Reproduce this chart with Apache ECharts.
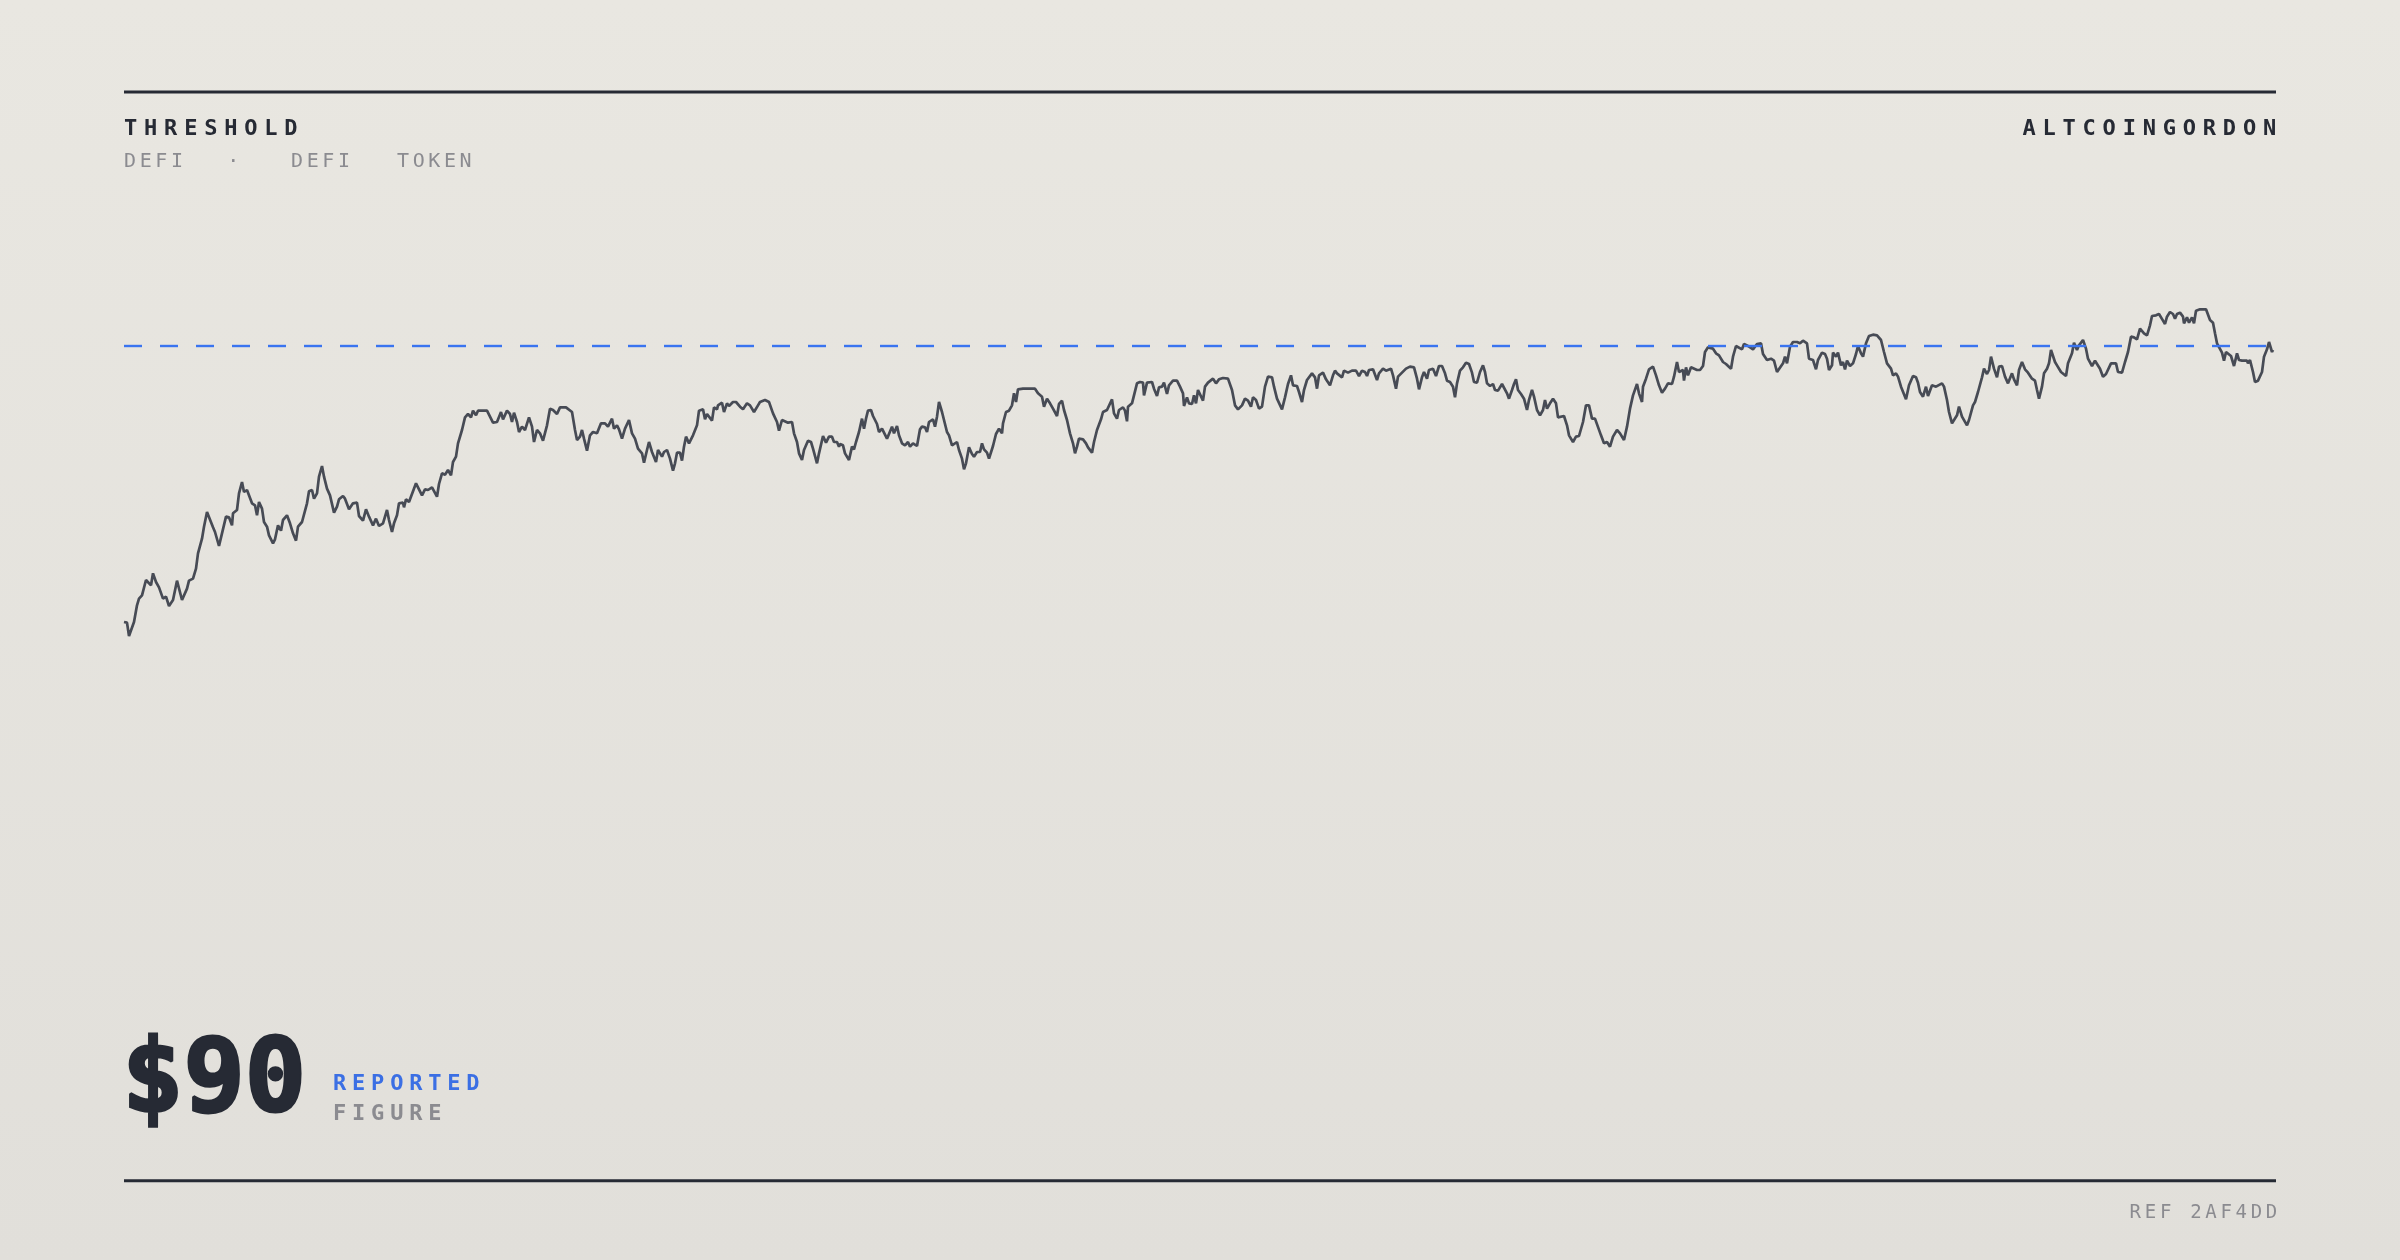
<!DOCTYPE html>
<html><head><meta charset="utf-8">
<style>html,body{margin:0;padding:0;width:2400px;height:1260px;overflow:hidden;background:#e6e4de}#c{width:2400px;height:1260px}</style>
<script src="https://cdn.jsdelivr.net/npm/echarts@6/dist/echarts.min.js"></script>
</head><body><div id="c"></div><script>
// canvas letter-spacing: a fake font family "lsNN" carries the spacing in tenths of px
(function(){
  const P = CanvasRenderingContext2D.prototype;
  function wrap(name){
    const orig = P[name];
    P[name] = function(t, x, y, w){
      const m = /\bls(\d+)\b/.exec(this.font || '');
      if (m && ('letterSpacing' in this)) {
        const prev = this.letterSpacing;
        this.letterSpacing = (parseInt(m[1],10)/10) + 'px';
        if (w === undefined) orig.call(this, t, x, y); else orig.call(this, t, x, y, w);
        this.letterSpacing = prev;
        return;
      }
      return w === undefined ? orig.call(this, t, x, y) : orig.call(this, t, x, y, w);
    };
  }
  wrap('fillText'); wrap('strokeText');
})();

const titleText = 'THRESHOLD';
const subtitleWords = ['DEFI', '·', 'DEFI', 'TOKEN'];
const authorText = 'ALTCOINGORDON';
const figureValue = '$90';
const figureLabels = ['REPORTED', 'FIGURE'];
const refText = 'REF 2AF4DD';
const threshold = 90;

// [day index, price]
const trace = [
[0,48.6],[3,48.5],[5,46.5],[10,48.6],[13,51.1],[15,52.1],[18,52.6],[22,54.9],[24,54.6],[27,54.1],[29,55.9],[32,54.6],[35,53.8],[39,52.1],[42,52.4],[45,51.0],[49,51.9],[53,54.8],[58,51.9],[63,53.6],[65,54.8],[69,55.1],[72,56.6],[74,58.9],[78,61.1],[80,62.9],[83,65.1],[85,65.0],[89,62.8],[91,62.1],[95,60.0],[98,61.9],[102,64.4],[105,64.3],[108,63.1],[109,64.9],[113,65.4],[115,67.9],[118,69.6],[120,68.1],[123,68.4],[125,68.1],[128,66.4],[131,66.1],[133,64.6],[135,66.6],[138,65.6],[140,63.6],[143,62.9],[145,61.6],[149,60.4],[151,61.0],[154,63.1],[157,62.3],[159,63.9],[163,64.6],[166,63.4],[169,61.9],[172,60.8],[174,62.9],[178,63.6],[180,63.9],[183,66.4],[185,68.2],[188,68.4],[190,67.1],[193,67.9],[195,70.4],[198,72.0],[200,70.4],[203,68.6],[206,67.6],[210,65.0],[213,65.9],[215,67.0],[219,67.5],[221,67.1],[225,65.5],[229,66.4],[233,66.5],[235,64.5],[239,63.8],[242,65.5],[245,64.4],[249,63.1],[252,64.1],[255,63.0],[259,63.4],[263,65.4],[265,63.9],[268,62.1],[270,63.4],[273,64.6],[275,66.4],[279,66.5],[280,65.8],[282,67.0],[285,66.6],[288,67.8],[290,67.9],[292,69.4],[294,69.5],[298,67.6],[301,68.5],[304,68.4],[308,68.8],[310,68.9],[313,67.4],[315,69.3],[318,70.9],[321,70.7],[324,71.4],[327,70.6],[329,72.6],[332,73.4],[334,75.4],[338,77.4],[341,79.3],[344,79.8],[347,79.3],[349,80.3],[352,79.6],[354,80.3],
[356,80.4],[363,80.3],[369,78.5],[373,78.6],[377,80.1],[379,79.0],[383,80.3],[386,79.8],[388,78.6],[390,80.0],[393,78.6],[395,77.1],[398,77.9],[401,77.4],[405,79.3],[408,77.9],[410,75.6],[413,77.4],[416,76.9],[419,75.8],[423,78.1],[426,80.6],[429,80.4],[433,79.8],[436,80.8],[442,80.8],[448,80.1],[451,77.4],[453,75.9],[456,76.4],[458,77.4],[460,76.1],[463,74.3],[466,76.6],[469,77.1],[473,76.9],[477,78.4],[481,78.4],[484,77.9],[488,79.1],[490,77.6],[493,78.1],[495,77.5],[498,76.1],[501,77.6],[505,78.9],[508,76.9],[511,76.1],[514,74.6],[518,73.9],[520,72.5],[523,74.4],[525,75.6],[528,74.1],[530,73.9],[532,72.6],[534,74.4],[538,73.4],[540,74.1],[543,74.4],[546,73.1],[549,71.3],[551,72.4],[553,74.0],[556,74.0],[558,72.8],[560,74.9],[562,76.4],[565,75.4],[569,76.6],[573,78.1],[575,80.3],[579,80.5],[581,79.0],[583,79.8],[585,79.6],[588,78.8],[590,80.8],[593,80.5],[594,81.1],[598,81.5],[600,80.1],[603,81.4],[605,81.0],[609,81.6],[612,81.6],[616,80.9],[619,80.5],[623,81.4],[626,81.1],[630,80.1],[634,81.1],[636,81.6],[638,81.3],[641,81.9],[645,81.6],[649,79.9],[653,78.6],[655,77.3],[658,78.9],[660,78.6],[664,78.5],[668,78.6],[670,76.9],[673,75.6],[675,73.9],[678,72.9],[680,74.4],[684,75.8],[687,75.6],[689,74.6],[693,72.4],[695,73.9],[699,76.5],[702,75.5],[705,76.4],[708,76.4],[710,75.6],[713,75.6],[715,74.9],
[716,75.3],[719,75.1],[721,73.9],[725,72.9],[728,74.9],[730,74.5],[732,75.6],[735,77.1],[738,79.1],[740,77.6],[742,79.1],[744,80.3],[747,80.4],[749,79.5],[753,78.3],[755,77.1],[758,77.6],[760,77.9],[763,76.1],[765,75.9],[768,77.9],[770,76.9],[773,78.0],[775,76.6],[778,75.4],[781,75.1],[784,75.6],[786,74.9],[789,75.4],[793,75.0],[796,77.5],[798,77.9],[801,77.8],[803,77.1],[805,78.6],[809,79.0],[811,77.9],[813,79.4],[815,81.6],[818,80.1],[820,78.9],[823,77.1],[825,76.6],[828,75.1],[830,75.4],[833,75.6],[835,74.4],[838,73.1],[840,71.5],[842,72.4],[845,74.8],[848,73.8],[850,73.4],[853,74.1],[856,74.1],[858,75.4],[860,74.5],[863,74.0],[865,73.1],[869,75.0],[872,76.8],[875,77.6],[878,76.9],[879,78.4],[882,80.1],[885,80.3],[888,81.1],[890,82.9],[892,81.6],[894,83.5],[899,83.6],[904,83.6],[911,83.6],[914,82.9],[918,82.4],[920,80.9],[923,82.1],[926,81.4],[929,80.6],[933,79.5],[935,81.3],[938,81.8],[940,80.4],[943,78.9],[946,76.9],[949,75.4],[951,73.9],[953,74.9],[955,76.1],[959,76.0],[962,75.4],[964,74.8],[968,74.0],[970,75.6],[973,77.4],[977,79.0],[979,80.1],[983,80.4],[985,80.4],[988,82.0],[990,79.9],[993,79.1],[995,80.4],[999,80.8],[1001,80.3],[1003,78.7],[1004,80.9],[1008,81.4],[1010,82.6],[1013,84.4],[1016,84.6],[1019,84.5],[1020,82.6],[1023,84.5],[1028,84.6],[1030,83.6],[1033,82.5],[1035,83.8],[1038,83.9],[1040,84.5],[1043,82.8],[1045,84.1],[1049,84.8],[1053,84.8],[1056,83.9],[1059,82.9],[1060,81.0],[1063,82.3],[1065,81.4],[1068,81.3],[1070,82.6],[1072,81.4],[1074,83.4],
[1076,83.5],[1079,81.8],[1081,83.9],[1084,84.5],[1089,85.1],[1092,84.4],[1095,85.0],[1099,85.2],[1104,85.1],[1108,83.4],[1111,81.1],[1114,80.5],[1118,81.1],[1121,82.1],[1124,81.8],[1127,80.9],[1129,82.3],[1132,81.9],[1135,80.6],[1138,80.9],[1141,83.9],[1144,85.4],[1148,85.3],[1150,83.9],[1153,82.1],[1158,80.5],[1161,82.3],[1164,84.3],[1167,85.6],[1169,84.1],[1173,84.0],[1175,83.1],[1178,81.6],[1180,83.4],[1183,84.9],[1188,85.9],[1191,85.3],[1193,83.6],[1195,85.6],[1199,86.0],[1202,85.0],[1204,84.9],[1206,84.1],[1209,85.6],[1211,86.3],[1213,85.9],[1215,86.1],[1218,85.3],[1220,86.3],[1224,86.0],[1228,86.3],[1232,86.3],[1235,85.5],[1238,86.3],[1241,86.1],[1243,85.5],[1245,86.4],[1249,86.5],[1251,86.6],[1253,84.9],[1255,85.9],[1259,86.6],[1262,86.3],[1264,86.0],[1267,86.6],[1269,85.6],[1272,83.6],[1274,85.4],[1278,86.0],[1282,86.6],[1286,86.9],[1290,86.8],[1293,85.1],[1295,83.5],[1298,85.3],[1300,86.1],[1303,85.1],[1305,86.4],[1309,86.6],[1312,85.5],[1315,87.0],[1318,87.0],[1321,85.9],[1323,84.8],[1326,84.6],[1329,83.9],[1331,82.3],[1333,84.4],[1336,86.3],[1339,86.8],[1342,87.5],[1345,87.3],[1348,86.0],[1350,84.6],[1353,84.5],[1356,86.1],[1359,87.1],[1361,86.1],[1363,84.4],[1366,84.0],[1369,84.3],[1371,83.4],[1374,83.3],[1378,84.3],[1380,84.4],[1383,82.9],[1385,82.1],[1388,83.4],[1390,84.3],[1392,85.0],[1394,83.4],[1397,82.8],[1400,82.1],[1403,80.4],[1405,81.9],[1408,83.4],[1410,82.4],[1413,80.4],[1416,79.6],[1419,80.4],[1421,81.9],[1423,80.6],[1426,81.4],[1429,82.1],[1432,81.4],[1434,79.3],
[1436,79.4],[1440,79.5],[1443,78.1],[1445,76.6],[1449,75.6],[1452,76.4],[1455,76.5],[1459,78.6],[1462,81.1],[1465,81.1],[1468,79.1],[1471,79.1],[1473,79.1],[1477,76.6],[1480,75.4],[1483,75.6],[1486,74.9],[1489,76.4],[1493,77.4],[1496,76.9],[1500,75.9],[1503,77.9],[1506,80.6],[1509,82.6],[1513,84.3],[1515,82.9],[1518,81.6],[1519,83.9],[1522,85.1],[1525,86.5],[1529,86.9],[1532,85.6],[1535,84.1],[1538,83.0],[1541,83.6],[1544,84.4],[1548,84.3],[1550,85.4],[1553,87.6],[1555,86.1],[1559,86.4],[1560,84.8],[1562,86.8],[1564,85.6],[1567,86.8],[1569,87.1],[1573,86.4],[1576,86.4],[1579,87.0],[1581,89.1],[1584,89.8],[1589,89.6],[1592,88.9],[1595,88.6],[1599,87.6],[1602,87.3],[1604,87.5],[1607,86.6],[1609,88.4],[1612,90.0],[1614,90.1],[1618,89.5],[1620,90.3],[1624,90.0],[1629,89.5],[1633,90.3],[1637,90.4],[1639,88.8],[1643,87.9],[1647,88.1],[1650,87.8],[1653,86.1],[1655,85.8],[1659,87.4],[1661,88.4],[1663,87.4],[1666,89.9],[1669,90.6],[1673,90.6],[1676,90.4],[1679,90.8],[1683,90.4],[1685,88.1],[1689,87.9],[1692,86.5],[1694,87.9],[1698,89.0],[1701,88.8],[1703,88.1],[1705,86.4],[1708,87.1],[1709,89.0],[1712,88.4],[1714,89.0],[1717,87.1],[1719,87.6],[1721,86.5],[1723,87.8],[1726,87.0],[1729,87.4],[1732,88.8],[1734,90.0],[1737,88.9],[1739,88.4],[1742,90.4],[1745,91.5],[1749,91.7],[1753,91.6],[1757,90.9],[1760,89.1],[1763,87.4],[1767,86.6],[1769,85.6],[1772,85.9],[1774,85.4],[1777,83.9],[1779,83.9],[1782,82.0],[1785,84.1],[1789,85.5],[1792,85.3],[1794,84.5],
[1796,83.1],[1799,82.4],[1802,83.9],[1804,82.5],[1808,84.1],[1812,83.9],[1818,84.4],[1820,83.9],[1823,81.9],[1825,80.1],[1828,78.4],[1830,78.1],[1833,79.6],[1835,80.9],[1838,79.4],[1840,79.5],[1843,78.1],[1845,78.9],[1849,81.1],[1851,81.6],[1854,83.1],[1858,85.3],[1860,86.6],[1863,85.8],[1865,86.4],[1867,88.4],[1870,86.6],[1873,85.3],[1875,86.9],[1878,87.0],[1881,85.4],[1884,84.4],[1888,85.9],[1890,85.0],[1893,84.1],[1895,86.4],[1898,87.6],[1901,86.5],[1904,86.0],[1908,85.1],[1911,84.8],[1913,83.4],[1915,82.1],[1918,83.9],[1920,85.9],[1923,86.6],[1925,87.4],[1927,89.4],[1929,89.4],[1931,87.6],[1933,87.1],[1937,86.1],[1939,86.4],[1942,85.5],[1944,87.4],[1948,88.9],[1950,90.5],[1953,89.4],[1955,90.1],[1959,90.9],[1962,89.6],[1964,88.1],[1968,87.0],[1971,87.8],[1973,87.9],[1976,86.6],[1979,85.4],[1982,85.8],[1984,85.5],[1987,87.4],[1989,87.3],[1992,87.4],[1994,86.1],[1998,86.0],[2001,87.6],[2004,89.1],[2007,91.4],[2010,91.3],[2013,91.0],[2016,92.6],[2018,92.9],[2020,91.9],[2023,91.6],[2026,93.1],[2028,94.5],[2032,94.6],[2035,94.8],[2037,95.0],[2039,93.8],[2041,93.3],[2043,94.4],[2046,95.1],[2049,94.8],[2051,94.1],[2053,94.8],[2056,95.0],[2059,94.4],[2060,93.4],[2063,94.3],[2065,93.5],[2068,94.3],[2070,93.4],[2072,95.3],[2076,95.5],[2082,95.5],[2086,93.9],[2089,93.5],[2091,91.9],[2093,90.4],[2095,90.6],[2098,89.0],[2100,87.8],[2102,89.1],[2104,89.0],[2107,88.5],[2110,87.0],[2113,88.9],[2115,87.9],[2118,87.8],[2120,87.5],[2123,87.8],[2124,87.4],[2126,87.9],[2129,86.1],[2131,84.6],[2134,84.8],[2138,86.1],[2140,88.4],[2143,89.5],[2145,90.6],[2148,89.1],[2149,89.4]
];

const DARK = '#262a34', GREY = '#8b8b90', BLUE = '#3b6fe4', LINE = '#474b55', DASH = '#3a74f0';
function fam(ls){ return "'DejaVu Sans Mono', ls" + Math.round(ls * 10); }
function txt(text, x, y, size, weight, color, ls, align, strokeW){
  const a = align || 'left';
  const st = { text:text, fill:color, fontSize:size, fontWeight:weight, fontFamily:fam(ls),
      align:a, verticalAlign:'middle', textAlign:a, textVerticalAlign:'middle' };
  if (strokeW) { st.stroke = color; st.lineWidth = strokeW; }
  return { type:'text', x:x, y:y, silent:true, z:10, style:st };
}

const subX = [124, 235, 291, 397];
const graphics = [
  { type:'rect', silent:true, shape:{ x:124, y:90.5, width:2152, height:3 }, style:{ fill:DARK } },
  { type:'rect', silent:true, shape:{ x:124, y:1179.3, width:2152, height:3 }, style:{ fill:DARK } },
  txt(titleText, 124, 129.5, 22, 'bold', DARK, 6.8),
  txt(authorText, 2283, 129.5, 22, 'bold', DARK, 6.8, 'right'),
  txt(figureValue, 122, 1084, 102, 'bold', DARK, 0, 'left', 3),
  txt(figureLabels[0], 333, 1084.5, 22, 'bold', BLUE, 5.8),
  txt(figureLabels[1], 333, 1114.5, 22, 'bold', GREY, 5.8),
  txt(refText, 2281, 1213.5, 19, 'normal', GREY, 3.7, 'right')
];
subtitleWords.forEach(function(w, i){
  graphics.push(txt(w, subX[i], 161.5, 20, 'normal', GREY, 3.6, i === 1 ? 'center' : 'left'));
});

const chart = echarts.init(document.getElementById('c'), null, { renderer:'canvas' });
chart.setOption({
  animation:false,
  backgroundColor:{ type:'linear', x:0, y:0, x2:0, y2:1,
    colorStops:[{ offset:0, color:'#e9e7e1' }, { offset:1, color:'#e1dfda' }] },
  grid:{ left:124, right:127, top:146, bottom:314 },
  xAxis:{ type:'value', min:0, max:2149, show:false },
  yAxis:{ type:'value', min:0, max:120, show:false },
  graphic: graphics,
  series:[{
    type:'line', data:trace, showSymbol:false, symbol:'none', silent:true,
    lineStyle:{ color:LINE, width:2.7 },
    markLine:{
      silent:true, animation:false,
      symbol:['none', 'path://M0,0H20V2H0Z M0,3.6H20V5.6H0Z'],
      symbolSize:[0, [20, 5.6]], symbolRotate:0, symbolOffset:[0, [0, 2]],
      label:{ show:false },
      lineStyle:{ color:DASH, width:2.4, type:[18, 18] },
      data:[{ yAxis:threshold }]
    }
  }]
});
</script></body></html>
